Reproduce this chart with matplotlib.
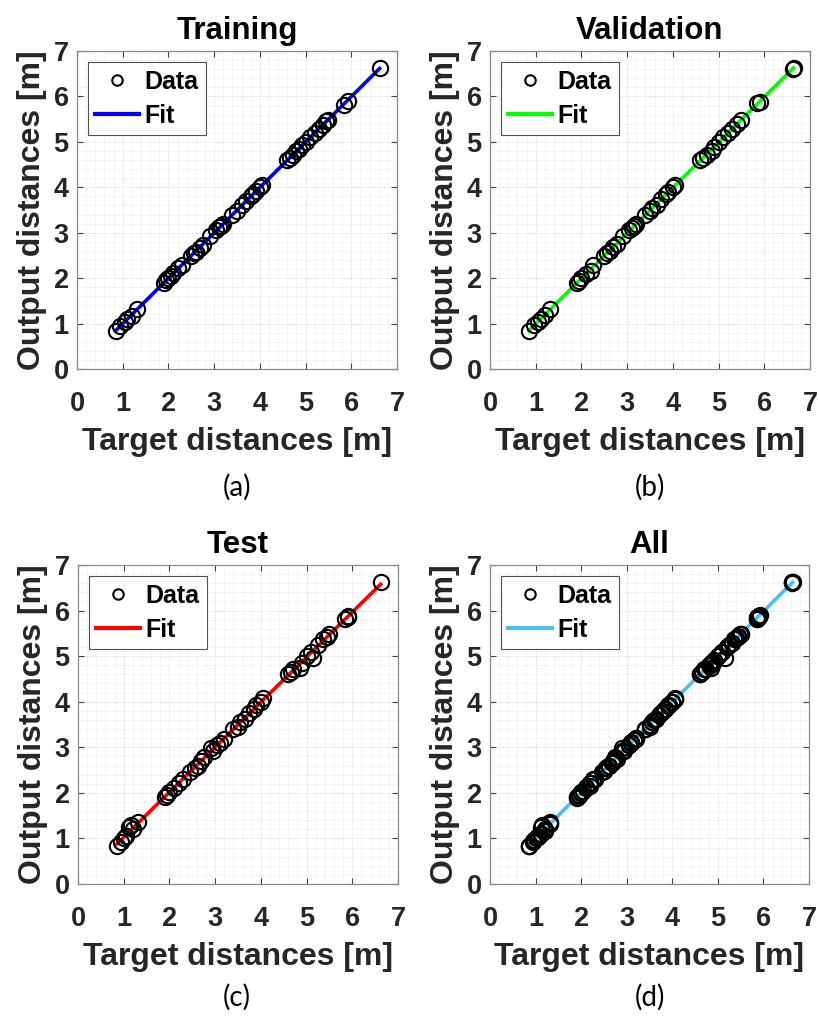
import numpy as np
import matplotlib
matplotlib.use("Agg")
import matplotlib.pyplot as plt
from matplotlib.ticker import MultipleLocator

# ---- data ----
train_target = [0.85, 0.95, 1.05, 1.10, 1.20, 1.32, 1.90, 1.95, 2.00, 2.05, 2.10, 2.20, 2.30,
                2.50, 2.55, 2.60, 2.68, 2.75, 2.92, 3.05, 3.10, 3.15, 3.20, 3.40, 3.50, 3.60,
                3.70, 3.80, 3.85, 3.92, 4.00, 4.05, 4.60, 4.65, 4.72, 4.80, 4.85, 4.92, 5.00,
                5.10, 5.20, 5.30, 5.38, 5.45, 5.50, 5.85, 5.92, 6.62]
train_output = [0.84, 0.95, 1.04, 1.10, 1.16, 1.32, 1.89, 1.95, 2.00, 2.05, 2.12, 2.22, 2.30,
                2.48, 2.55, 2.58, 2.66, 2.74, 2.92, 3.05, 3.12, 3.15, 3.20, 3.40, 3.48, 3.60,
                3.70, 3.80, 3.85, 3.92, 4.00, 4.06, 4.60, 4.65, 4.72, 4.80, 4.85, 4.92, 5.00,
                5.10, 5.20, 5.28, 5.38, 5.45, 5.48, 5.82, 5.90, 6.62]

val_target = [0.85, 0.97, 1.05, 1.12, 1.20, 1.32, 1.90, 1.95, 2.00, 2.10, 2.20, 2.25, 2.50,
              2.55, 2.62, 2.70, 2.78, 2.90, 3.05, 3.10, 3.15, 3.20, 3.40, 3.50, 3.55, 3.65,
              3.75, 3.85, 3.90, 4.00, 4.05, 4.60, 4.65, 4.75, 4.85, 4.90, 5.00, 5.10, 5.20,
              5.30, 5.40, 5.48, 5.85, 5.90, 6.62, 6.64]
val_output = [0.84, 0.97, 1.04, 1.10, 1.18, 1.33, 1.90, 1.93, 2.00, 2.10, 2.15, 2.30, 2.48,
              2.55, 2.60, 2.68, 2.75, 2.92, 3.05, 3.10, 3.15, 3.20, 3.40, 3.48, 3.55, 3.62,
              3.75, 3.85, 3.90, 4.00, 4.05, 4.60, 4.65, 4.72, 4.80, 4.88, 5.00, 5.10, 5.20,
              5.28, 5.40, 5.48, 5.85, 5.88, 6.60, 6.62]

test_target = [0.85, 0.95, 1.00, 1.05, 1.12, 1.15, 1.20, 1.32, 1.90, 1.95, 2.00, 2.10, 2.20,
               2.30, 2.45, 2.55, 2.62, 2.70, 2.75, 2.90, 2.95, 3.05, 3.10, 3.20, 3.40, 3.50,
               3.55, 3.65, 3.75, 3.85, 3.90, 4.00, 4.05, 4.60, 4.65, 4.70, 4.85, 4.90, 5.00,
               5.10, 5.15, 5.25, 5.35, 5.45, 5.50, 5.85, 5.90, 5.90, 6.62]
test_output = [0.84, 0.93, 1.00, 1.05, 1.25, 1.30, 1.20, 1.35, 1.90, 1.95, 2.02, 2.10, 2.22,
               2.30, 2.45, 2.55, 2.60, 2.70, 2.78, 2.98, 2.92, 3.05, 3.10, 3.18, 3.40, 3.45,
               3.55, 3.62, 3.75, 3.85, 3.92, 4.00, 4.08, 4.60, 4.65, 4.72, 4.75, 4.85, 5.00,
               5.10, 4.95, 5.25, 5.38, 5.42, 5.48, 5.82, 5.88, 5.85, 6.62]

all_target = train_target + val_target + test_target
all_output = train_output + val_output + test_output

titles = ["Training", "Validation", "Test", "All"]
fit_colors = ["#0000ff", "#00ff00", "#ff0000", "#4dbeee"]
panel_labels = ["(a)", "(b)", "(c)", "(d)"]
ticks = [0, 1, 2, 3, 4, 5, 6, 7]

datasets = [(train_target, train_output), (val_target, val_output),
            (test_target, test_output), (all_target, all_output)]

# ---- figure ----
fig = plt.figure(figsize=(8.19, 10.23), dpi=100)
plt.rcParams['font.family'] = ['Liberation Sans', 'DejaVu Sans']

W, H = 819, 1023
boxes = [(77, 51, 397, 369), (490, 51, 810, 369),
         (78, 565, 398, 884), (490, 565, 809, 884)]
label_pos = [(237, 487), (650, 487), (237, 997), (650, 997)]

for i, ((tx, ty), box) in enumerate(zip(datasets, boxes)):
    l, t, r, b = box
    ax = fig.add_axes([l / W, 1 - b / H, (r - l) / W, (b - t) / H])
    tx = np.asarray(tx); ty = np.asarray(ty)
    coef = np.polyfit(tx, ty, 1)
    fx = np.array([tx.min(), tx.max()])
    ax.plot(fx, np.polyval(coef, fx), color=fit_colors[i], lw=2.6, zorder=2)
    ax.plot(tx, ty, 'o', mfc='none', mec='black', ms=11, mew=1.5, zorder=3)
    # legend handles
    h_data, = ax.plot([], [], 'o', mfc='none', mec='black', ms=7.5, mew=1.5)
    h_fit, = ax.plot([], [], color=fit_colors[i], lw=3)
    leg = ax.legend([h_data, h_fit], ["Data", "Fit"], loc='upper left',
                    bbox_to_anchor=(0.034, 0.965), fancybox=False, framealpha=1,
                    edgecolor='#505050', handlelength=1.75, handletextpad=0.2,
                    borderpad=0.3, labelspacing=0.4, borderaxespad=0,
                    prop={'weight': 'bold', 'size': 18})
    leg.get_frame().set_linewidth(0.8)

    ax.set_xlim(0, 7); ax.set_ylim(0, 7)
    ax.set_xticks(ticks); ax.set_yticks(ticks)
    ax.xaxis.set_minor_locator(MultipleLocator(0.2))
    ax.yaxis.set_minor_locator(MultipleLocator(0.2))
    ax.grid(which='major', color='#d0d0d0', lw=0.6, ls=(0, (1, 1.5)))
    ax.grid(which='minor', color='#dcdcdc', lw=0.5, ls=(0, (1, 1.5)))
    ax.set_axisbelow(True)
    ax.tick_params(which='major', direction='in', length=4, width=0.8, color='#404040',
                   top=True, right=True, labelsize=19.5, labelcolor='#262626')
    ax.tick_params(axis='x', which='major', pad=15.5)
    ax.tick_params(axis='y', which='major', pad=6)
    ax.tick_params(which='minor', length=0, top=True, right=True)
    for lab in ax.get_xticklabels() + ax.get_yticklabels():
        lab.set_fontweight('bold')
    for s in ax.spines.values():
        s.set_color('#8a8a8a'); s.set_linewidth(0.9)
    ax.set_xlabel("Target distances [m]", fontsize=23, fontweight='bold', color='#262626',
                  labelpad=7.5)
    ax.set_ylabel("Output distances [m]", fontsize=23, fontweight='bold', color='#262626',
                  labelpad=5)
    ax.set_title(titles[i], fontsize=22.5, fontweight='bold', color='black', pad=8.5)
    lx, ly = label_pos[i]
    fig.text(lx / W, 1 - ly / H, panel_labels[i], ha='center', va='center',
             fontsize=20, family=['Lato', 'DejaVu Sans'])

fig.savefig("out.png", dpi=100)
